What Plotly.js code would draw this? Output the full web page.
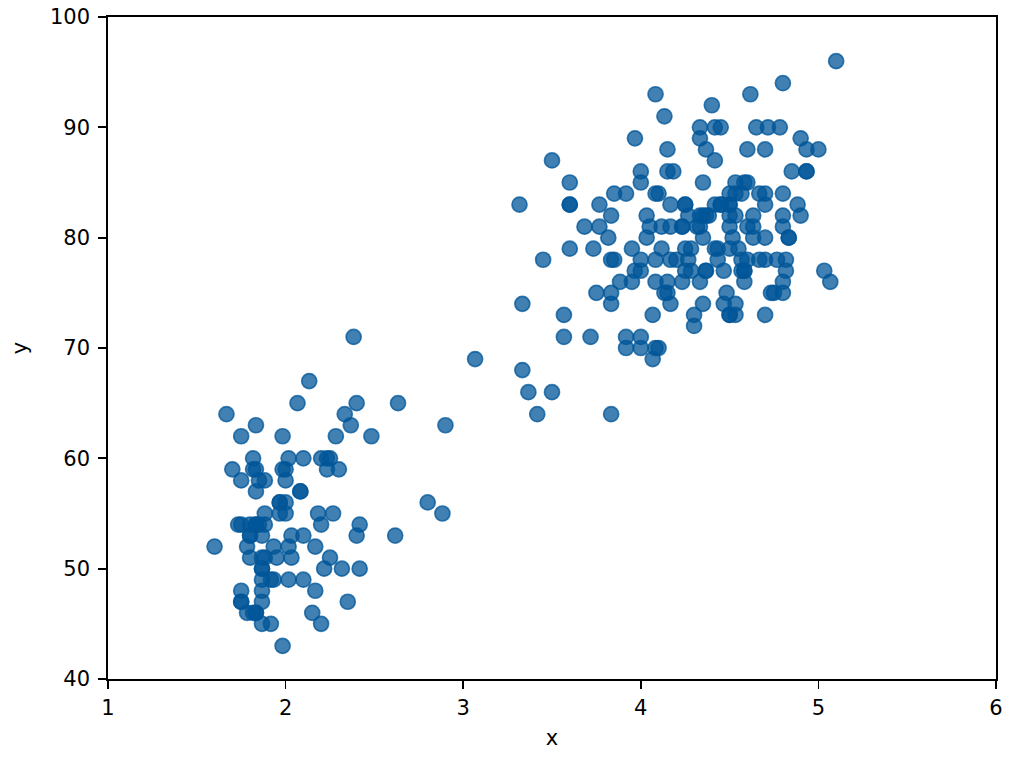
<!DOCTYPE html>
<html>
<head>
<meta charset="utf-8">
<script src="https://cdn.plot.ly/plotly-3.0.1.min.js"></script>
<style>
  body { margin: 0; background: #fff; }
  #chart { width: 1014px; height: 758px; }
</style>
</head>
<body>
<div id="chart"></div>
<script>
// eruption duration (x) and waiting time (y)
var eruptions = [
  3.600, 1.800, 3.333, 2.283, 4.533, 2.883, 4.700, 3.600, 1.950, 4.350,
  1.833, 3.917, 4.200, 1.750, 4.700, 2.167, 1.750, 4.800, 1.600, 4.250,
  1.800, 1.750, 3.450, 3.067, 4.533, 3.600, 1.967, 4.083, 3.850, 4.433,
  4.300, 4.467, 3.367, 4.033, 3.833, 2.017, 1.867, 4.833, 1.833, 4.783,
  4.350, 1.883, 4.567, 1.750, 4.533, 3.317, 3.833, 2.100, 4.633, 2.000,
  4.800, 4.716, 1.833, 4.833, 1.733, 4.883, 3.717, 1.667, 4.567, 4.317,
  2.233, 4.500, 1.750, 4.800, 1.817, 4.400, 4.167, 4.700, 2.067, 4.700,
  4.033, 1.967, 4.500, 4.000, 1.983, 5.067, 2.017, 4.567, 3.883, 3.600,
  4.133, 4.333, 4.100, 2.633, 4.067, 4.933, 3.950, 4.517, 2.167, 4.000,
  2.200, 4.333, 1.867, 4.817, 1.833, 4.300, 4.667, 3.750, 1.867, 4.900,
  2.483, 4.367, 2.100, 4.500, 4.050, 1.867, 4.700, 1.783, 4.850, 3.683,
  4.733, 2.300, 4.900, 4.417, 1.700, 4.633, 2.317, 4.600, 1.817, 4.417,
  2.617, 4.067, 4.250, 1.967, 4.600, 3.767, 1.917, 4.500, 2.267, 4.650,
  1.867, 4.167, 2.800, 4.333, 1.833, 4.383, 1.883, 4.933, 2.033, 3.733,
  4.233, 2.233, 4.533, 4.817, 4.333, 1.983, 4.633, 2.017, 5.100, 1.800,
  5.033, 4.000, 2.400, 4.600, 3.567, 4.000, 4.500, 4.083, 1.800, 3.967,
  2.200, 4.150, 2.000, 3.833, 3.500, 4.583, 2.367, 5.000, 1.933, 4.617,
  1.917, 2.083, 4.583, 3.333, 4.167, 4.333, 4.500, 2.417, 4.000, 4.167,
  1.883, 4.583, 4.250, 3.767, 2.033, 4.433, 4.083, 1.833, 4.417, 2.183,
  4.800, 1.833, 4.800, 4.100, 3.966, 4.233, 3.500, 4.366, 2.250, 4.667,
  2.100, 4.350, 4.133, 1.867, 4.600, 1.783, 4.367, 3.850, 1.933, 4.500,
  2.383, 4.700, 1.867, 3.833, 3.417, 4.233, 2.400, 4.800, 2.000, 4.150,
  1.867, 4.267, 1.750, 4.483, 4.000, 4.117, 4.083, 4.267, 3.917, 4.550,
  4.083, 2.417, 4.183, 2.217, 4.450, 1.883, 1.850, 4.283, 3.950, 2.333,
  4.150, 2.350, 4.933, 2.900, 4.583, 3.833, 2.083, 4.367, 2.133, 4.350,
  2.200, 4.450, 3.567, 4.500, 4.150, 3.817, 3.917, 4.450, 2.000, 4.283,
  4.767, 4.533, 1.850, 4.250, 1.983, 2.250, 4.750, 4.117, 2.150, 4.417,
  1.817, 4.467
];
var waiting = [
  79, 54, 74, 62, 85, 55, 88, 85, 51, 85,
  54, 84, 78, 47, 83, 52, 62, 84, 52, 79,
  51, 47, 78, 69, 74, 83, 55, 76, 78, 79,
  73, 77, 66, 80, 74, 52, 48, 80, 59, 90,
  80, 58, 84, 58, 73, 83, 64, 53, 82, 59,
  75, 90, 54, 80, 54, 83, 71, 64, 77, 81,
  59, 84, 48, 82, 60, 92, 78, 78, 65, 73,
  82, 56, 79, 71, 62, 76, 60, 78, 76, 83,
  75, 82, 70, 65, 73, 88, 76, 80, 48, 86,
  60, 90, 50, 78, 63, 72, 84, 75, 51, 82,
  62, 88, 49, 83, 81, 47, 84, 52, 86, 81,
  75, 59, 89, 79, 59, 81, 50, 85, 59, 87,
  53, 69, 77, 56, 88, 81, 45, 82, 55, 90,
  45, 83, 56, 89, 46, 82, 51, 86, 53, 79,
  81, 60, 82, 77, 76, 59, 80, 49, 96, 53,
  77, 77, 65, 81, 71, 70, 81, 93, 53, 89,
  45, 86, 58, 78, 66, 76, 63, 88, 52, 93,
  49, 57, 77, 68, 81, 81, 73, 50, 85, 74,
  55, 77, 83, 83, 51, 78, 84, 46, 83, 55,
  81, 57, 76, 84, 77, 81, 87, 77, 51, 78,
  60, 82, 91, 53, 78, 46, 77, 84, 49, 83,
  71, 80, 49, 75, 64, 76, 53, 94, 55, 76,
  50, 82, 54, 75, 78, 79, 78, 78, 70, 79,
  70, 54, 86, 50, 90, 54, 54, 77, 79, 64,
  75, 47, 86, 63, 85, 82, 57, 82, 67, 74,
  54, 83, 73, 73, 88, 80, 71, 83, 56, 79,
  78, 84, 58, 83, 43, 60, 75, 81, 46, 90,
  46, 74
];

var xTicks = [1, 2, 3, 4, 5, 6];
var yTicks = [40, 50, 60, 70, 80, 90, 100];

var trace = {
  x: eruptions,
  y: waiting,
  type: 'scatter',
  mode: 'markers',
  hoverinfo: 'skip',
  marker: {
    size: 15,
    color: 'rgba(0,86,152,0.75)',
    line: { color: 'rgba(0,86,152,0.75)', width: 1.7 }
  }
};

var font = { family: 'DejaVu Sans', size: 21, color: '#000' };

var axisBase = {
  showgrid: false,
  zeroline: false,
  showline: true,
  mirror: true,
  linecolor: '#000',
  linewidth: 1.7,
  ticks: 'outside',
  ticklen: 8,
  tickwidth: 1.7,
  tickcolor: '#000',
  tickfont: font
};

var layout = {
  width: 1014,
  height: 758,
  paper_bgcolor: '#fff',
  plot_bgcolor: '#fff',
  showlegend: false,
  margin: { l: 108, r: 18, t: 17, b: 79 },
  xaxis: Object.assign({}, axisBase, {
    range: [1, 6],
    tickvals: xTicks,
    ticktext: xTicks.map(String),
    ticklabelstandoff: 1,
    title: { text: 'x', font: font, standoff: 11 }
  }),
  yaxis: Object.assign({}, axisBase, {
    range: [40, 100],
    tickvals: yTicks,
    ticktext: yTicks.map(String),
    ticklabelstandoff: 4,
    title: { text: 'y', font: font, standoff: 17 }
  })
};

Plotly.newPlot('chart', [trace], layout, { staticPlot: true });
</script>
</body>
</html>
